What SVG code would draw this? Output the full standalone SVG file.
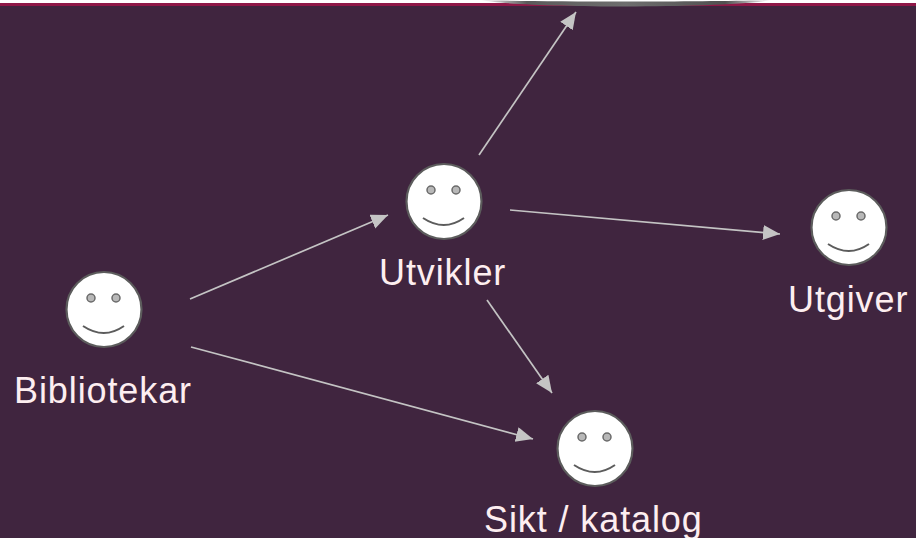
<svg xmlns="http://www.w3.org/2000/svg" width="916" height="538" viewBox="0 0 916 538">
<style>
.label{font-family:"Liberation Sans",Arial,sans-serif;font-size:36px;letter-spacing:.9px;fill:#fdeef0;text-anchor:start}
.head{fill:#fff;stroke:#5c5c5c;stroke-width:2.2}
.eye{fill:#b8b8b8;stroke:#6a6a6a;stroke-width:1.5}
.smile{fill:none;stroke:#5c5c5c;stroke-width:2}
.conn{stroke:#c4c4c4;stroke-width:1.7;fill:none;marker-end:url(#arrow)}
</style>
<defs>
<marker id="arrow" markerUnits="userSpaceOnUse" markerWidth="19" markerHeight="16" refX="17" refY="7.5" orient="auto">
<path d="M0,0L17,7.5L0,15Z" fill="#c4c4c4"/>
</marker>
<linearGradient id="g" x1="0" x2="1" y1="0" y2="0">
<stop offset="0" stop-color="#fff"/><stop offset=".16" stop-color="#5a5a5a"/><stop offset=".5" stop-color="#6e6e6e"/><stop offset=".84" stop-color="#505050"/><stop offset="1" stop-color="#fff"/>
</linearGradient>
<g id="face">
<circle class="head" cx="39" cy="37.5" r="37.5"/>
<circle class="eye" cx="26" cy="26" r="4"/>
<circle class="eye" cx="51" cy="26" r="4"/>
<path class="smile" d="M18,54Q39,68 59,54"/>
</g>
</defs>
<rect width="916" height="538" fill="#40253f"/>
<rect width="916" height="3.5" fill="#fff"/>
<rect y="3" width="916" height="3" fill="#8f1747"/>
<path d="M480,0C540,2 710,2 772,0C725,8.5 525,8.5 480,0Z" fill="url(#g)"/>
<g id="connectors">
<line class="conn" x1="479" y1="155" x2="576" y2="12"/>
<line class="conn" x1="510" y1="210" x2="780" y2="234"/>
<line class="conn" x1="487" y1="300" x2="552" y2="393"/>
<line class="conn" x1="190" y1="299" x2="388" y2="215"/>
<line class="conn" x1="191" y1="347" x2="533" y2="439"/>
</g>
<g id="utvikler"><use href="#face" x="405" y="164"/><text class="label" x="379" y="285">Utvikler</text></g>
<g id="utgiver"><use href="#face" x="810" y="190"/><text class="label" x="788" y="312">Utgiver</text></g>
<g id="bibliotekar"><use href="#face" x="65" y="272"/><text class="label" x="14" y="403">Bibliotekar</text></g>
<g id="sikt"><use href="#face" x="556" y="411"/><text class="label" x="484" y="532">Sikt / katalog</text></g>
</svg>
